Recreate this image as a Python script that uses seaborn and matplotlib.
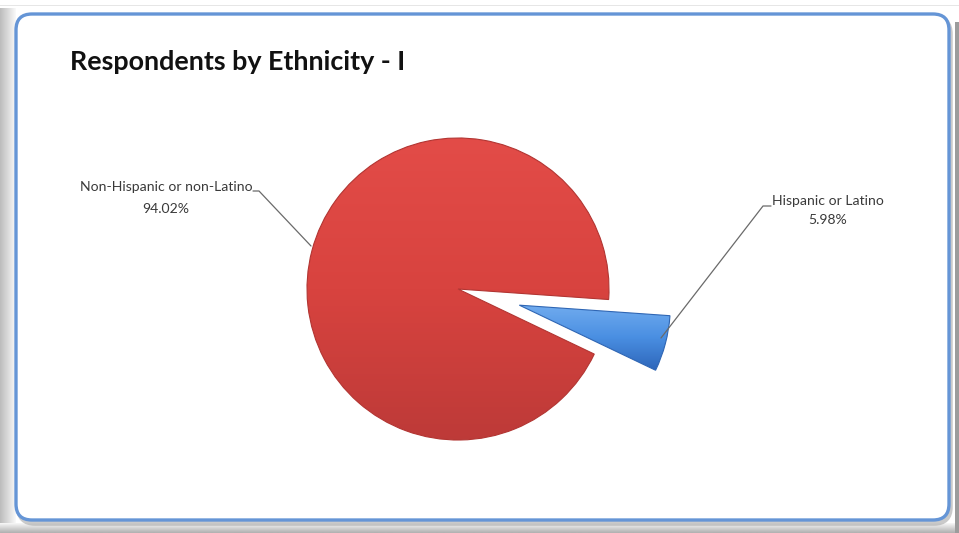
import numpy as np
import matplotlib
matplotlib.use("Agg")
import matplotlib.pyplot as plt
import seaborn as sns
from matplotlib.patches import FancyBboxPatch, Rectangle
from matplotlib.colors import LinearSegmentedColormap

# Survey breakdown
categories = ["Non-Hispanic or non-Latino", "Hispanic or Latino"]
shares = [94.02, 5.98]
pct_labels = ["94.02%", "5.98%"]

title = "Respondents by Ethnicity - I"

sns.set_theme(style="white")
plt.rcParams["font.family"] = ["Lato", "DejaVu Sans"]

W, H = 959, 533
fig = plt.figure(figsize=(W / 100, H / 100), dpi=100)
ax = fig.add_axes([0, 0, 1, 1])


def py(y):
    # convert a top-down pixel row to the axes' bottom-up coordinate
    return H - y


# window backdrop and bevel
ax.add_patch(Rectangle((0, 0), W, H, facecolor="#ffffff", edgecolor="none", zorder=0))
ax.add_patch(Rectangle((0, py(6)), W, 1.2, facecolor="#e6e6e6", edgecolor="none", zorder=0))
grad_left = np.linspace(0.74, 0.97, 16)[None, :]
ax.imshow(np.repeat(grad_left, 2, axis=0), cmap="gray", vmin=0, vmax=1,
          extent=(0, 16, 0, py(8)), aspect="auto", interpolation="bilinear", zorder=0.5)
grad_bot = np.linspace(0.96, 0.70, 10)[:, None]
ax.imshow(np.repeat(grad_bot, 2, axis=1), cmap="gray", vmin=0, vmax=1,
          extent=(0, W, 0, 10), aspect="auto", interpolation="bilinear", zorder=0.6)
ax.add_patch(Rectangle((W - 4, 0), 4, py(22), facecolor="#9c9c9c", edgecolor="none", zorder=0.7))

# chart frame with soft shadow
ax.add_patch(FancyBboxPatch((19, py(523)), 931, 505,
                            boxstyle="round,pad=0,rounding_size=16",
                            facecolor="none", edgecolor="#a8a8a8", linewidth=4,
                            alpha=0.6, zorder=1))
frame = FancyBboxPatch((16, py(520)), 933, 506,
                       boxstyle="round,pad=0,rounding_size=16",
                       facecolor="white", edgecolor="#6595d6", linewidth=2.4, zorder=2)
ax.add_patch(frame)

# pie: the small slice pulled out by ~0.42 of the radius
cx, cy, r = 458, py(289), 151
wedges, _ = ax.pie(shares, labels=None, startangle=-4, counterclock=True,
                   explode=[0.0, 0.42 * r], center=(cx, cy), radius=r,
                   colors=["#d9443f", "#4a8ee0"],
                   wedgeprops=dict(linewidth=0.8), frame=True)
wedges[0].set_edgecolor("#b23532")
wedges[1].set_edgecolor("#2f66b4")

shade_maps = [
    LinearSegmentedColormap.from_list("red_shade", ["#bd3a38", "#d8433f", "#e34c48"]),
    LinearSegmentedColormap.from_list("blue_shade", ["#2c64b8", "#4a8fe2", "#74aef0"]),
]
for w, cmap in zip(wedges, shade_maps):
    bb = w.get_path().get_extents(w.get_patch_transform())
    g = np.linspace(0, 1, 256)[:, None]
    im = ax.imshow(np.repeat(g, 2, axis=1), cmap=cmap, origin="lower",
                   extent=(bb.x0 - 2, bb.x1 + 2, bb.y0 - 2, bb.y1 + 2),
                   aspect="auto", zorder=3)
    im.set_clip_path(w)
    w.set_zorder(4)
    w.set_facecolor("none")

# data labels with leader lines
label_color = "#3a3a3a"
fs = 10.1
ax.text(166, py(187), categories[0], ha="center", va="center",
        fontsize=fs, color=label_color, zorder=5)
ax.text(166, py(209), pct_labels[0], ha="center", va="center",
        fontsize=fs, color=label_color, zorder=5)
ax.plot([253, 259, 311], [py(191), py(191), py(246)], color="#6a6a6a", lw=0.9, zorder=5)

ax.text(828, py(201), categories[1], ha="center", va="center",
        fontsize=fs, color=label_color, zorder=5)
ax.text(828, py(220), pct_labels[1], ha="center", va="center",
        fontsize=fs, color=label_color, zorder=5)
ax.plot([771, 763, 661], [py(206), py(206), py(338)], color="#6a6a6a", lw=0.9, zorder=5)

# title
ax.text(70, py(62), title, ha="left", va="center", fontsize=19.4,
        fontweight="bold", color="#111111", zorder=5)

ax.set_xlim(0, W)
ax.set_ylim(0, H)
ax.set_aspect("auto")
ax.axis("off")

fig.savefig("out.png", dpi=100)
